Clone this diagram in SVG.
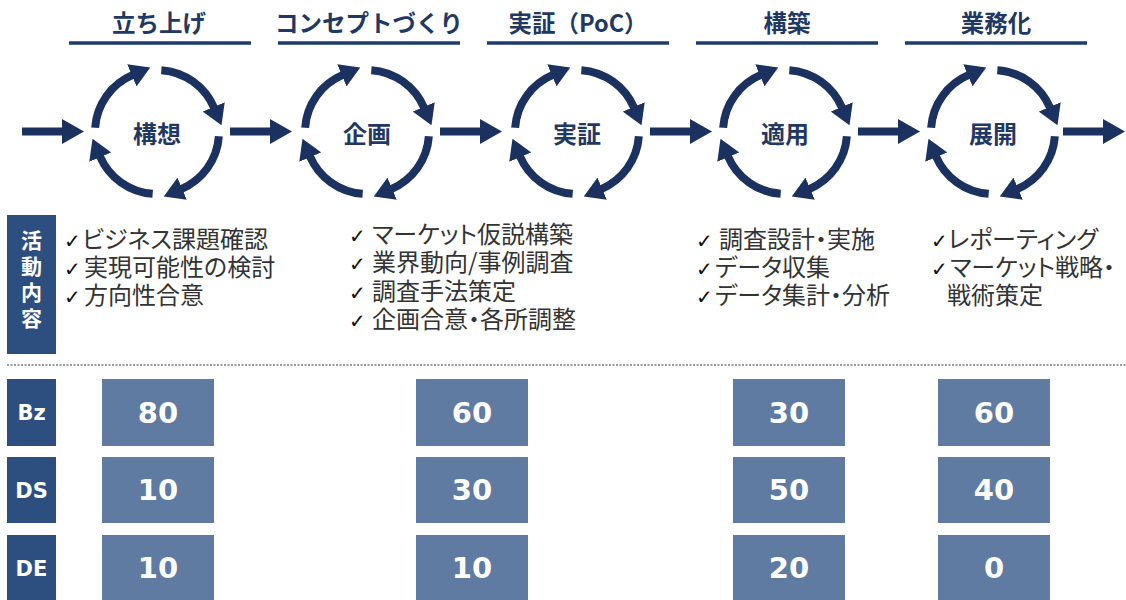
<svg xmlns="http://www.w3.org/2000/svg" xmlns:xlink="http://www.w3.org/1999/xlink" width="1126" height="600" viewBox="0 0 1126 600">
<style>
.title{font-family:"Noto Sans CJK JP","Liberation Sans",sans-serif;font-weight:bold;font-size:23.5px;fill:#1f3864;text-anchor:middle}
.ctr{font-family:"Noto Sans CJK JP","Liberation Sans",sans-serif;font-weight:bold;font-size:24px;fill:#1f3864;text-anchor:middle}
.uline{stroke:#1f3b6e;stroke-width:3.5}
.arc{fill:none;stroke:#1b3160;stroke-width:8;marker-end:url(#ah)}
.flow{fill:#1b3160}
.bul{font-family:"Noto Sans CJK JP","DejaVu Sans",sans-serif;font-size:24px;fill:#333;font-feature-settings:"palt"}
.chk{font-family:"DejaVu Sans",sans-serif;font-size:20px;fill:#111}
.lbl{fill:#2d4f80}
.val{fill:#5f7ba1}
.lt{font-family:"DejaVu Sans","Noto Sans CJK JP",sans-serif;font-weight:bold;font-size:21px;fill:#fff;text-anchor:middle}
.vt{font-family:"DejaVu Sans",sans-serif;font-weight:bold;font-size:29px;fill:#fff;text-anchor:middle}
.vlab{font-family:"Noto Sans CJK JP",sans-serif;font-weight:bold;font-size:21px;fill:#fff;text-anchor:middle}
</style>
<defs>
<marker id="ah" markerUnits="userSpaceOnUse" markerWidth="20" markerHeight="24" viewBox="0 0 20 24" refX="1" refY="12" orient="auto">
<path d="M0,0 L20,12 L0,24 z" fill="#1b3160"/>
</marker>
<g id="cycle">
<path class="arc" d="M-61.85,-4.33 A62,62 0 0 1 -24.23,-57.07"/>
<path class="arc" d="M4.33,-61.85 A62,62 0 0 1 57.07,-24.23"/>
<path class="arc" d="M61.85,4.33 A62,62 0 0 1 24.23,57.07"/>
<path class="arc" d="M-4.33,61.85 A62,62 0 0 1 -57.07,24.23"/>
</g>
</defs>
<rect width="1126" height="600" fill="#fff"/>

<g id="phase1">
<text class="title" x="159" y="32">立ち上げ</text>
<line class="uline" x1="69" y1="43" x2="251" y2="43"/>
<use xlink:href="#cycle" x="157" y="132"/>
<text class="ctr" x="157" y="143">構想</text>
</g>
<g id="phase2">
<text class="title" x="369" y="32">コンセプトづくり</text>
<line class="uline" x1="278" y1="43" x2="460" y2="43"/>
<use xlink:href="#cycle" x="367" y="132"/>
<text class="ctr" x="367" y="143">企画</text>
</g>
<g id="phase3">
<text class="title" x="578" y="32">実証（PoC）</text>
<line class="uline" x1="487" y1="43" x2="669" y2="43"/>
<use xlink:href="#cycle" x="577" y="132"/>
<text class="ctr" x="577" y="143">実証</text>
</g>
<g id="phase4">
<text class="title" x="787" y="32">構築</text>
<line class="uline" x1="696" y1="43" x2="878" y2="43"/>
<use xlink:href="#cycle" x="785" y="132"/>
<text class="ctr" x="785" y="143">適用</text>
</g>
<g id="phase5">
<text class="title" x="996" y="32">業務化</text>
<line class="uline" x1="905" y1="43" x2="1087" y2="43"/>
<use xlink:href="#cycle" x="993" y="132"/>
<text class="ctr" x="993" y="143">展開</text>
</g>

<g id="connectors">
<polygon class="flow" points="22,127.5 62,127.5 62,119 84,131.5 62,144 62,135.5 22,135.5"/>
<polygon class="flow" points="230,127.5 270,127.5 270,119 292,131.5 270,144 270,135.5 230,135.5"/>
<polygon class="flow" points="440,127.5 480,127.5 480,119 502,131.5 480,144 480,135.5 440,135.5"/>
<polygon class="flow" points="650,127.5 690,127.5 690,119 712,131.5 690,144 690,135.5 650,135.5"/>
<polygon class="flow" points="858,127.5 898,127.5 898,119 920,131.5 898,144 898,135.5 858,135.5"/>
<polygon class="flow" points="1063,127.5 1103,127.5 1103,119 1125,131.5 1103,144 1103,135.5 1063,135.5"/>
</g>

<g id="activity-label">
<rect class="lbl" x="7" y="215" width="49" height="139"/>
<text class="vlab"><tspan x="31.5" y="248">活</tspan><tspan x="31.5" y="274">動</tspan><tspan x="31.5" y="300">内</tspan><tspan x="31.5" y="326">容</tspan></text>
</g>

<g id="activities1">
<text class="bul" y="248"><tspan class="chk" x="64">✓</tspan><tspan x="82">ビジネス課題確認</tspan></text>
<text class="bul" y="276"><tspan class="chk" x="64">✓</tspan><tspan x="84">実現可能性の検討</tspan></text>
<text class="bul" y="304"><tspan class="chk" x="64">✓</tspan><tspan x="84">方向性合意</tspan></text>
</g>
<g id="activities2">
<text class="bul" y="243"><tspan class="chk" x="349">✓</tspan><tspan x="372">マーケット仮説構築</tspan></text>
<text class="bul" y="271"><tspan class="chk" x="349">✓</tspan><tspan x="372">業界動向/事例調査</tspan></text>
<text class="bul" y="300"><tspan class="chk" x="349">✓</tspan><tspan x="372">調査手法策定</tspan></text>
<text class="bul" y="328"><tspan class="chk" x="349">✓</tspan><tspan x="372">企画合意・各所調整</tspan></text>
</g>
<g id="activities3">
<text class="bul" y="248"><tspan class="chk" x="696">✓</tspan><tspan x="719">調査設計・実施</tspan></text>
<text class="bul" y="276"><tspan class="chk" x="696">✓</tspan><tspan x="715">データ収集</tspan></text>
<text class="bul" y="304"><tspan class="chk" x="696">✓</tspan><tspan x="715">データ集計・分析</tspan></text>
</g>
<g id="activities4">
<text class="bul" y="248"><tspan class="chk" x="931">✓</tspan><tspan x="948">レポーティング</tspan></text>
<text class="bul" y="276"><tspan class="chk" x="931">✓</tspan><tspan x="950">マーケット戦略・</tspan></text>
<text class="bul" y="304" x="947">戦術策定</text>
</g>

<line id="separator" x1="7" y1="365" x2="1126" y2="365" stroke="#9a9a9a" stroke-width="2" stroke-dasharray="2 1.5"/>

<g id="row-bz">
<rect class="lbl" x="7" y="379" width="49" height="67"/>
<text class="lt" x="31.5" y="420">Bz</text>
<rect class="val" x="102" y="379" width="112" height="67"/><text class="vt" x="158" y="423">80</text>
<rect class="val" x="416" y="379" width="112" height="67"/><text class="vt" x="472" y="423">60</text>
<rect class="val" x="733" y="379" width="112" height="67"/><text class="vt" x="789" y="423">30</text>
<rect class="val" x="938" y="379" width="112" height="67"/><text class="vt" x="994" y="423">60</text>
</g>
<g id="row-ds">
<rect class="lbl" x="7" y="457" width="49" height="66"/>
<text class="lt" x="31.5" y="498">DS</text>
<rect class="val" x="102" y="457" width="112" height="66"/><text class="vt" x="158" y="500">10</text>
<rect class="val" x="416" y="457" width="112" height="66"/><text class="vt" x="472" y="500">30</text>
<rect class="val" x="733" y="457" width="112" height="66"/><text class="vt" x="789" y="500">50</text>
<rect class="val" x="938" y="457" width="112" height="66"/><text class="vt" x="994" y="500">40</text>
</g>
<g id="row-de">
<rect class="lbl" x="7" y="535" width="49" height="67"/>
<text class="lt" x="31.5" y="576">DE</text>
<rect class="val" x="102" y="535" width="112" height="67"/><text class="vt" x="158" y="578">10</text>
<rect class="val" x="416" y="535" width="112" height="67"/><text class="vt" x="472" y="578">10</text>
<rect class="val" x="733" y="535" width="112" height="67"/><text class="vt" x="789" y="578">20</text>
<rect class="val" x="938" y="535" width="112" height="67"/><text class="vt" x="994" y="578">0</text>
</g>
</svg>
